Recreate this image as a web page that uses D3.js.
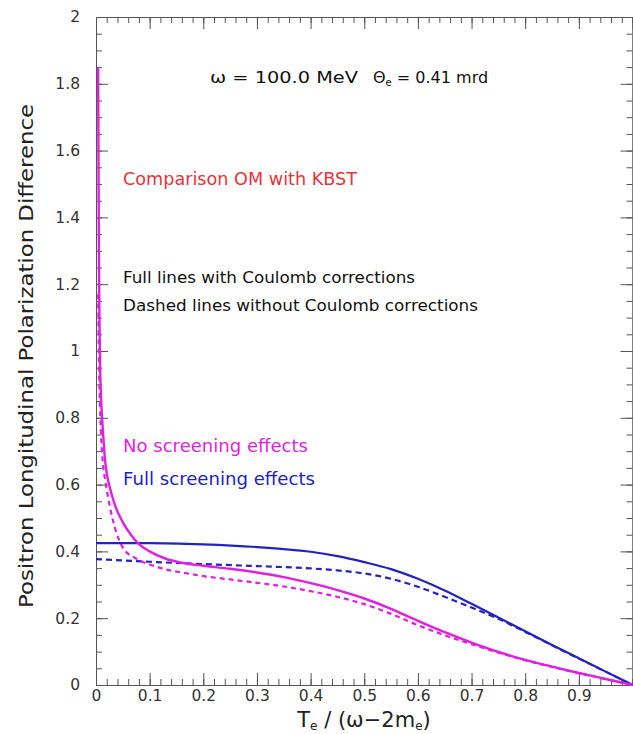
<!DOCTYPE html>
<html>
<head>
<meta charset="utf-8">
<script src="https://cdn.jsdelivr.net/npm/d3@7"></script>
<style>
  body { margin: 0; background: #fff; }
  svg { display: block; }
  text { font-family: "DejaVu Sans", sans-serif; white-space: pre; }
</style>
</head>
<body>
<div id="chart"></div>
<script>
// values
var xTicks = [0, 0.1, 0.2, 0.3, 0.4, 0.5, 0.6, 0.7, 0.8, 0.9];
var xTickLabels = ["0", "0.1", "0.2", "0.3", "0.4", "0.5", "0.6", "0.7", "0.8", "0.9"];
var yTicks = [0, 0.2, 0.4, 0.6, 0.8, 1, 1.2, 1.4, 1.6, 1.8, 2];
var yTickLabels = ["0", "0.2", "0.4", "0.6", "0.8", "1", "1.2", "1.4", "1.6", "1.8", "2"];

// no screening, with coulomb (magenta full)
var noScrFull = [
  [0.004, 1.85], [0.0048, 1.5], [0.0056, 1.25], [0.0065, 1.08], [0.008, 0.93],
  [0.010, 0.84], [0.013, 0.76], [0.017, 0.67], [0.021, 0.625], [0.026, 0.59],
  [0.035, 0.54], [0.05, 0.487], [0.065, 0.45], [0.078, 0.425], [0.1, 0.4],
  [0.13, 0.378], [0.16, 0.366], [0.2, 0.357], [0.25, 0.348], [0.3, 0.337],
  [0.35, 0.323], [0.4, 0.305], [0.45, 0.284], [0.5, 0.259], [0.55, 0.228],
  [0.6, 0.192], [0.65, 0.158], [0.7, 0.127], [0.75, 0.099], [0.8, 0.075],
  [0.85, 0.055], [0.9, 0.036], [0.95, 0.018], [1.0, 0]
];
// no screening, without coulomb (magenta dashed)
var noScrDash = [
  [0.004, 1.17], [0.005, 1.02], [0.006, 0.92], [0.0075, 0.83], [0.01, 0.73],
  [0.013, 0.66], [0.017, 0.615], [0.02, 0.585], [0.032, 0.49], [0.045, 0.427],
  [0.055, 0.4], [0.068, 0.385], [0.082, 0.372], [0.1, 0.361], [0.13, 0.346],
  [0.17, 0.334], [0.2, 0.326], [0.25, 0.316], [0.3, 0.306], [0.35, 0.295],
  [0.4, 0.281], [0.45, 0.264], [0.5, 0.242], [0.55, 0.213], [0.6, 0.179],
  [0.65, 0.149], [0.7, 0.122], [0.75, 0.097], [0.8, 0.074], [0.85, 0.054],
  [0.9, 0.035], [0.95, 0.018], [1.0, 0]
];
// full screening, with coulomb (blue full)
var fullScrFull = [
  [0, 0.425], [0.1, 0.425], [0.2, 0.421], [0.3, 0.413], [0.35, 0.407],
  [0.4, 0.399], [0.45, 0.386], [0.5, 0.368], [0.55, 0.347], [0.6, 0.318],
  [0.65, 0.283], [0.7, 0.243], [0.75, 0.202], [0.8, 0.161], [0.85, 0.12],
  [0.9, 0.08], [0.95, 0.04], [1.0, 0]
];
// full screening, without coulomb (blue dashed)
var fullScrDash = [
  [0, 0.377], [0.1, 0.369], [0.2, 0.362], [0.3, 0.356], [0.35, 0.353],
  [0.4, 0.349], [0.45, 0.343], [0.5, 0.334], [0.55, 0.318], [0.6, 0.294],
  [0.65, 0.264], [0.7, 0.232], [0.75, 0.198], [0.8, 0.159], [0.85, 0.119],
  [0.9, 0.079], [0.95, 0.04], [1.0, 0]
];

var W = 633, H = 734;
var margin = {left: 96, right: 0.5, top: 17, bottom: 49};

var svg = d3.select("#chart").append("svg")
  .attr("width", W).attr("height", H);

var x = d3.scaleLinear().domain([0, 1]).range([margin.left, W - margin.right]);
var y = d3.scaleLinear().domain([0, 2]).range([H - margin.bottom, margin.top]);

var magenta = "#e01fe0", blue = "#2323c2";

// minor tick values
var xMinor = d3.range(0, 51).map(function(i){ return i * 0.02; });
var yMinor = d3.range(0, 41).map(function(i){ return i * 0.05; });

function styleAxis(g) {
  g.select(".domain").attr("stroke", "#555");
  g.selectAll(".tick line").attr("stroke", "#555");
  g.selectAll(".tick text").attr("fill", "#333")
    .style("font-size", "15.5px");
}

// bottom
svg.append("g").attr("transform", "translate(0," + y(0) + ")")
  .call(d3.axisBottom(x).tickValues(xMinor).tickSize(-6).tickFormat(""))
  .call(styleAxis);
svg.append("g").attr("transform", "translate(0," + y(0) + ")")
  .call(d3.axisBottom(x).tickValues(xTicks).tickSizeInner(-12).tickSizeOuter(0)
    .tickPadding(5).tickFormat(function(d, i){ return xTickLabels[i]; }))
  .call(styleAxis);
// top
svg.append("g").attr("transform", "translate(0," + y(2) + ")")
  .call(d3.axisTop(x).tickValues(xMinor).tickSize(-6).tickFormat(""))
  .call(styleAxis);
svg.append("g").attr("transform", "translate(0," + y(2) + ")")
  .call(d3.axisTop(x).tickValues(xTicks.concat([1])).tickSizeInner(-12).tickSizeOuter(0).tickFormat(""))
  .call(styleAxis);
// left
svg.append("g").attr("transform", "translate(" + x(0) + ",0)")
  .call(d3.axisLeft(y).tickValues(yMinor).tickSize(-6).tickFormat(""))
  .call(styleAxis);
svg.append("g").attr("transform", "translate(" + x(0) + ",0)")
  .call(d3.axisLeft(y).tickValues(yTicks).tickSizeInner(-12).tickSizeOuter(0)
    .tickPadding(16).tickFormat(function(d, i){ return yTickLabels[i]; }))
  .call(styleAxis);
// right
svg.append("g").attr("transform", "translate(" + x(1) + ",0)")
  .call(d3.axisRight(y).tickValues(yMinor).tickSize(-6).tickFormat(""))
  .call(styleAxis);
svg.append("g").attr("transform", "translate(" + x(1) + ",0)")
  .call(d3.axisRight(y).tickValues(yTicks).tickSizeInner(-12).tickSizeOuter(0).tickFormat(""))
  .call(styleAxis);

// curves
var line = d3.line()
  .x(function(d){ return x(d[0]); })
  .y(function(d){ return y(d[1]); })
  .curve(d3.curveMonotoneX);

var series = [
  {data: fullScrDash, color: blue, dash: "6,4", w: 2.2},
  {data: noScrDash, color: magenta, dash: "5,4", w: 2.2},
  {data: fullScrFull, color: blue, dash: null, w: 2.2},
  {data: noScrFull, color: magenta, dash: null, w: 2.4}
];
series.forEach(function(s){
  svg.append("path")
    .datum(s.data)
    .attr("d", line)
    .attr("fill", "none")
    .attr("stroke", s.color)
    .attr("stroke-width", s.w)
    .attr("stroke-dasharray", s.dash);
});

// texts
function label(tx, ty, size, color, str, len) {
  var t = svg.append("text").attr("x", tx).attr("y", ty)
    .style("font-size", size + "px").attr("fill", color).text(str);
  if (len) t.attr("textLength", len).attr("lengthAdjust", "spacingAndGlyphs");
  return t;
}
label(210, 83, 16, "#111", "\u03c9 = 100.0 MeV", 148);
var t2 = svg.append("text").attr("x", 373).attr("y", 83)
  .style("font-size", "16px").attr("fill", "#111");
t2.append("tspan").text("\u0398");
t2.append("tspan").text("e").style("font-size", "10px").attr("dy", 3);
t2.append("tspan").text(" = 0.41 mrd").attr("dy", -3);

label(123, 185, 17, "#e3343c", "Comparison OM with KBST", 234);
label(123, 283, 15.5, "#111", "Full lines with Coulomb corrections", 292);
label(123, 311, 15.5, "#111", "Dashed lines without Coulomb corrections", 355);
label(123, 452, 17, magenta, "No screening effects", 185);
label(123, 485, 17, blue, "Full screening effects", 192);

// axis titles
svg.append("text")
  .attr("transform", "translate(33," + ((y(0) + y(2)) / 2 + 5) + ") rotate(-90)")
  .attr("text-anchor", "middle")
  .attr("textLength", 504).attr("lengthAdjust", "spacingAndGlyphs")
  .style("font-size", "19px").attr("fill", "#222")
  .text("Positron Longitudinal Polarization Difference");

var xt = svg.append("text").attr("x", 364).attr("y", 727)
  .attr("text-anchor", "middle")
  .style("font-size", "21px").attr("fill", "#222");
xt.append("tspan").text("T");
xt.append("tspan").text("e").style("font-size", "12px").attr("dy", 3);
xt.append("tspan").text(" / (\u03c9\u22122m").attr("dy", -3);
xt.append("tspan").text("e").style("font-size", "12px").attr("dy", 3);
xt.append("tspan").text(")").attr("dy", -3);
</script>
</body>
</html>
